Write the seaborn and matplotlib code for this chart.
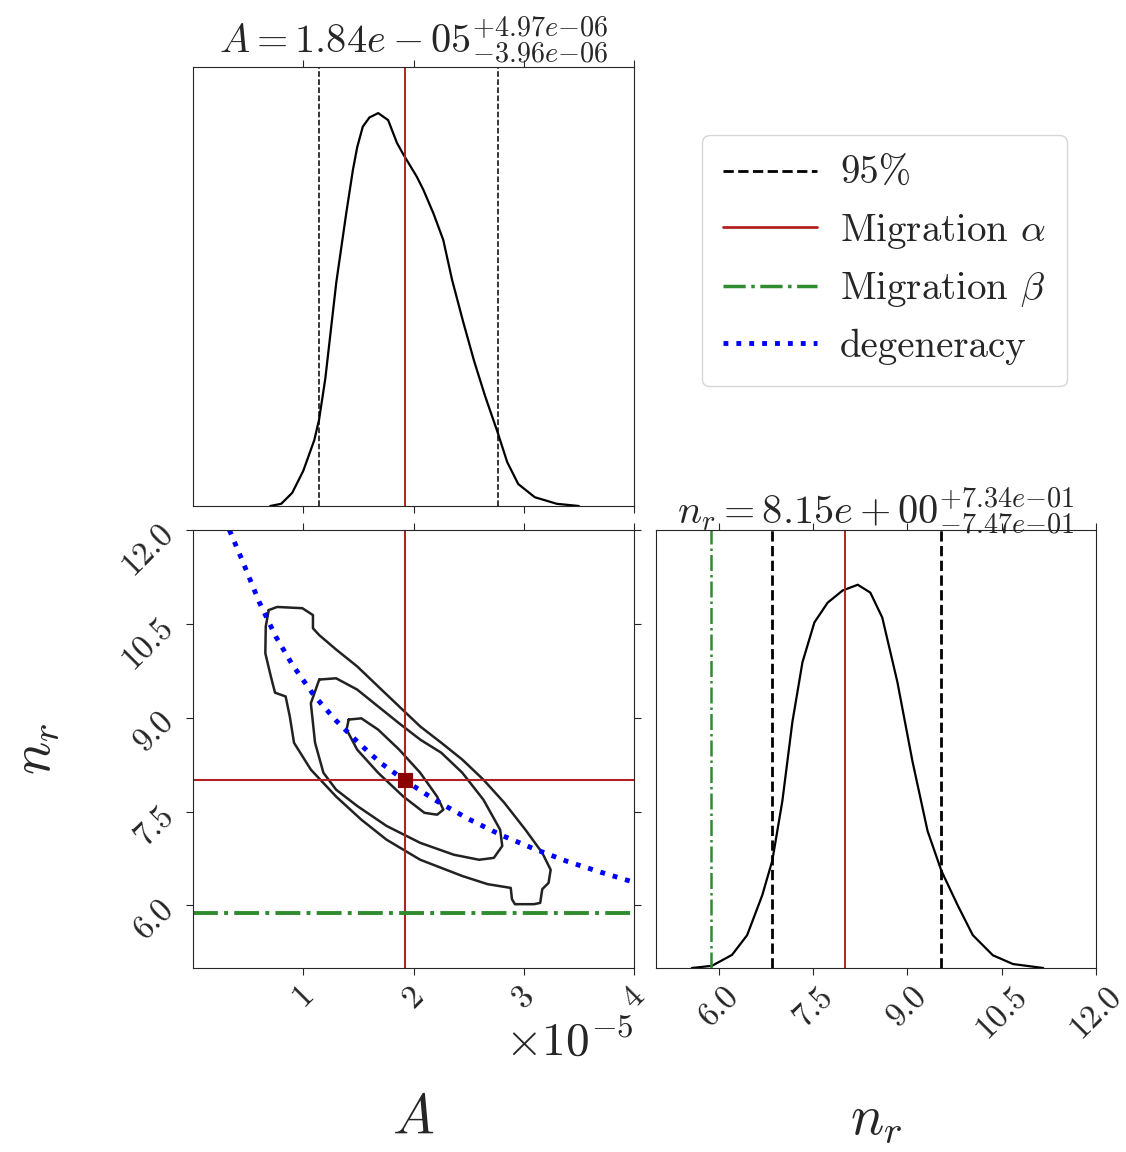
import numpy as np
import pandas as pd
import matplotlib.pyplot as plt
import seaborn as sns
from matplotlib.lines import Line2D

# ---- values (A in units of 1e-5) ----
A_SCALE = 1e-5

# 1D marginal of A (normalised height)
A_grid = [0.70, 0.80, 0.90, 1.00, 1.10, 1.143, 1.20, 1.30, 1.39, 1.45, 1.49, 1.54,
          1.60, 1.68, 1.77, 1.85, 1.91, 2.03, 2.09, 2.18, 2.27, 2.35, 2.45, 2.55,
          2.65, 2.76, 2.85, 2.95, 3.10, 3.30, 3.50]
A_dens = [0.0, 0.005, 0.03, 0.08, 0.15, 0.196, 0.29, 0.51, 0.667, 0.765, 0.818, 0.864,
          0.885, 0.895, 0.879, 0.827, 0.80, 0.75, 0.72, 0.667, 0.606, 0.515, 0.42, 0.33,
          0.25, 0.17, 0.10, 0.05, 0.02, 0.005, 0.0]

# 1D marginal of n_r (normalised height)
nr_grid = [5.57, 5.89, 6.21, 6.45, 6.69, 6.85, 7.01, 7.17, 7.33, 7.52, 7.73, 7.97,
           8.21, 8.41, 8.60, 8.84, 9.08, 9.32, 9.54, 9.80, 10.04, 10.36, 10.68, 11.16]
nr_dens = [0.0, 0.005, 0.03, 0.075, 0.166, 0.245, 0.381, 0.562, 0.698, 0.789, 0.834, 0.862,
           0.875, 0.857, 0.80, 0.653, 0.472, 0.313, 0.222, 0.143, 0.075, 0.029, 0.009, 0.0]

A_q95 = [1.143, 2.764]
nr_q95 = [6.85, 9.54]
A_alpha = 1.92
nr_alpha = 8.0
nr_beta = 5.88

# degeneracy curve
degen_A = [0.33, 0.45, 0.6, 0.75, 0.9, 1.1, 1.3, 1.5, 1.7, 1.92, 2.2, 2.5,
           2.8, 3.1, 3.4, 3.7, 4.0]
degen_nr = [12.0, 11.5, 10.85, 10.3, 9.85, 9.35, 8.95, 8.6, 8.28, 8.0, 7.68, 7.38,
            7.12, 6.9, 6.7, 6.53, 6.37]

# 2D credible contours (traced)
outer_A = [0.687, 0.763, 0.992, 1.088, 1.088, 1.145, 1.298, 1.489, 1.679, 1.870, 2.061,
           2.252, 2.443, 2.634, 2.824, 3.015, 3.168, 3.244, 3.225, 3.168, 3.149, 3.092,
           2.920, 2.893, 2.882, 2.672, 2.443, 2.061, 1.756, 1.527, 1.298, 1.069, 0.916,
           0.878, 0.840, 0.744, 0.706, 0.656, 0.660, 0.687]
outer_nr = [10.72, 10.77, 10.75, 10.64, 10.43, 10.32, 10.09, 9.82, 9.50, 9.18, 8.86,
            8.60, 8.33, 8.01, 7.64, 7.21, 6.84, 6.57, 6.36, 6.26, 6.04, 6.02,
            6.02, 6.10, 6.28, 6.34, 6.47, 6.73, 7.05, 7.37, 7.74, 8.17, 8.60,
            9.02, 9.34, 9.40, 9.66, 10.03, 10.46, 10.72]
middle_A = [1.145, 1.298, 1.489, 1.679, 1.870, 2.061, 2.252, 2.443, 2.634, 2.786, 2.805,
            2.729, 2.595, 2.366, 2.061, 1.756, 1.489, 1.298, 1.183, 1.107, 1.069, 1.145]
middle_nr = [9.61, 9.63, 9.45, 9.18, 8.91, 8.65, 8.44, 8.12, 7.69, 7.21, 6.95,
             6.76, 6.73, 6.81, 7.00, 7.27, 7.59, 7.85, 8.12, 8.60, 9.23, 9.61]
inner_A = [1.412, 1.527, 1.679, 1.870, 2.061, 2.214, 2.271, 2.214, 2.099, 1.908, 1.679,
           1.489, 1.393, 1.412]
inner_nr = [8.97, 8.99, 8.81, 8.49, 8.12, 7.74, 7.53, 7.45, 7.48, 7.74, 8.12,
            8.49, 8.81, 8.97]

A_ticks = [1, 2, 3, 4]
nr_ticks = [6.0, 7.5, 9.0, 10.5, 12.0]
A_lim = (0, 4)
nr_lim = (5, 12)

title_A = r"$A = 1.84e-05^{+4.97e{-}06}_{-3.96e{-}06}$"
title_nr = r"$n_r = 8.15e+00^{+7.34e{-}01}_{-7.47e{-}01}$"

# ---- style ----
sns.set_style("ticks")
plt.rcParams["font.family"] = ["cmr10", "DejaVu Serif"]
plt.rcParams["mathtext.fontset"] = "cm"
plt.rcParams["axes.formatter.use_mathtext"] = True
plt.rcParams["axes.unicode_minus"] = True

RED = "#b22222"
GREEN = "#2e8b2e"
W, H = 1126, 1152
fig = plt.figure(figsize=(W / 100, H / 100), dpi=100)
ax_top = fig.add_axes([193 / W, 1 - 506 / H, 441 / W, 439 / H])
ax_2d = fig.add_axes([193 / W, 1 - 968 / H, 441 / W, 438 / H])
ax_r = fig.add_axes([656 / W, 1 - 968 / H, 440 / W, 438 / H])

sc = lambda v: np.asarray(v) * A_SCALE

# top: marginal of A
df_A = pd.DataFrame({"A": sc(A_grid), "p": A_dens})
sns.lineplot(data=df_A, x="A", y="p", ax=ax_top, color="k", lw=1.6, sort=False, estimator=None)
for q in A_q95:
    ax_top.axvline(q * A_SCALE, color="k", ls="--", lw=1.1)
ax_top.axvline(A_alpha * A_SCALE, color=RED, lw=1.4)
ax_top.set_xlim(sc(A_lim))
ax_top.set_ylim(0, 1.0)
ax_top.set_xticks(sc(A_ticks))
ax_top.set_yticks([])
ax_top.tick_params(axis="x", top=True, labelbottom=False, length=5)
ax_top.set_xlabel("")
ax_top.set_ylabel("")
ax_top.set_title(title_A, fontsize=29, pad=4)

# 2D panel
for cA, cn in [(outer_A, outer_nr), (middle_A, middle_nr), (inner_A, inner_nr)]:
    d = pd.DataFrame({"A": sc(cA), "n": cn})
    sns.lineplot(data=d, x="A", y="n", ax=ax_2d, color="#222222", lw=1.8,
                 sort=False, estimator=None)
d_deg = pd.DataFrame({"A": sc(degen_A), "n": degen_nr})
sns.lineplot(data=d_deg, x="A", y="n", ax=ax_2d, color="blue", lw=3.5, ls=":",
             sort=False, estimator=None)
ax_2d.axvline(A_alpha * A_SCALE, color=RED, lw=1.5)
ax_2d.axhline(nr_alpha, color=RED, lw=1.5)
ax_2d.axhline(nr_beta, color=GREEN, lw=2.8, ls="-.")
sns.scatterplot(x=[A_alpha * A_SCALE], y=[nr_alpha], ax=ax_2d, marker="s", s=110,
                color="#8b0000", edgecolor="#8b0000", zorder=5)
ax_2d.set_xlim(sc(A_lim))
ax_2d.set_ylim(nr_lim)
ax_2d.set_xticks(sc(A_ticks))
ax_2d.set_yticks(nr_ticks)
ax_2d.set_yticklabels([f"{t:.1f}" for t in nr_ticks])
ax_2d.tick_params(top=True, right=True, labelsize=24, length=5, pad=5)
for lab in ax_2d.get_xticklabels() + ax_2d.get_yticklabels():
    lab.set_rotation(45)
ax_2d.xaxis.get_offset_text().set_fontsize(34)
ax_2d.set_xlabel(r"$A$", fontsize=40)
ax_2d.set_ylabel(r"$n_r$", fontsize=40)
ax_2d.xaxis.set_label_coords(0.5, -0.29)
ax_2d.yaxis.set_label_coords(-0.30, 0.5)

# right: marginal of n_r
df_n = pd.DataFrame({"n": nr_grid, "p": nr_dens})
sns.lineplot(data=df_n, x="n", y="p", ax=ax_r, color="k", lw=1.6, sort=False, estimator=None)
for q in nr_q95:
    ax_r.axvline(q, color="k", ls="--", lw=2.0)
ax_r.axvline(nr_alpha, color=RED, lw=1.4)
ax_r.axvline(nr_beta, color=GREEN, lw=1.8, ls="-.")
ax_r.set_xlim(nr_lim)
ax_r.set_ylim(0, 1.0)
ax_r.set_xticks(nr_ticks)
ax_r.set_xticklabels([f"{t:.1f}" for t in nr_ticks])
ax_r.set_yticks([])
ax_r.tick_params(axis="x", top=True, labelsize=24, length=5, pad=5)
for lab in ax_r.get_xticklabels():
    lab.set_rotation(45)
ax_r.set_ylabel("")
ax_r.set_xlabel(r"$n_r$", fontsize=40)
ax_r.xaxis.set_label_coords(0.5, -0.29)
ax_r.set_title(title_nr, fontsize=29, pad=4)

# legend
handles = [
    Line2D([], [], color="k", ls="--", lw=2),
    Line2D([], [], color=RED, lw=2),
    Line2D([], [], color=GREEN, ls="-.", lw=2.5),
    Line2D([], [], color="blue", ls=":", lw=3.5),
]
labels = ["95%", r"Migration $\alpha$", r"Migration $\beta$", "degeneracy"]
fig.legend(handles, labels, loc="upper left", bbox_to_anchor=(702 / W, 1 - 135 / H),
           borderaxespad=0, fontsize=28, handlelength=2.4, handletextpad=0.6,
           frameon=True, fancybox=True, borderpad=0.55, labelspacing=0.5)

fig.savefig("out.png", dpi=100)
